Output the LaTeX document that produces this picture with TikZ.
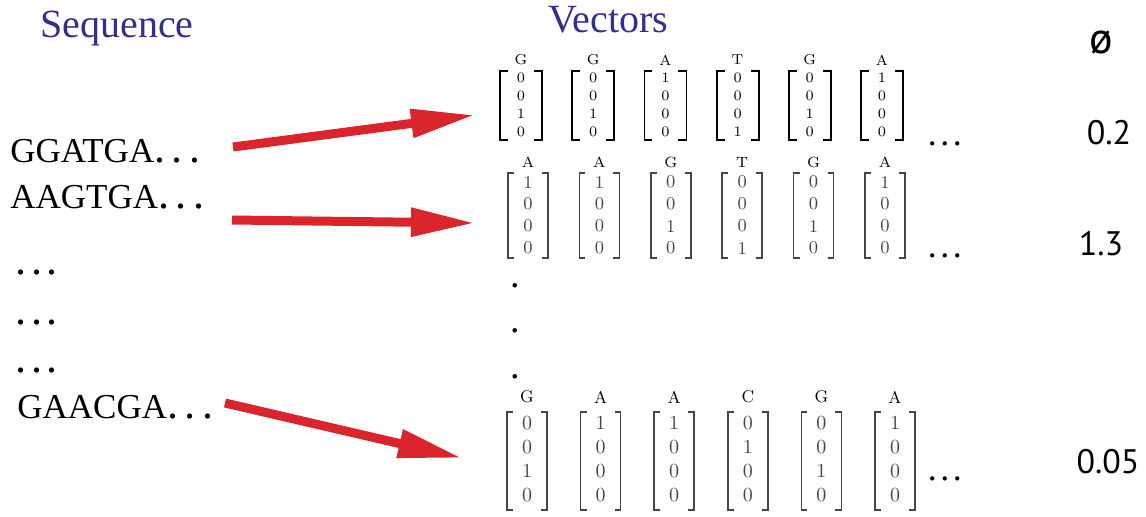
\documentclass[tikz,border=0pt]{standalone}
\usepackage{fontspec}
\usetikzlibrary{arrows.meta}
\newfontfamily\timesf{Liberation Serif}
\newfontfamily\sansf{PT Sans}
\definecolor{titleblue}{RGB}{46,49,146}
\definecolor{arrowred}{RGB}{217,37,43}
\definecolor{vecgray}{RGB}{70,70,70}
% three enlarged periods with a chosen gap between them
\newcommand\spreaddots[2]{{\fontsize{#1}{#1}\selectfont.\kern#2.\kern#2.}}

\tikzset{
  title/.style={inner sep=0pt, anchor=base west, text=titleblue,
                font=\timesf\fontsize{20}{24}\selectfont},
  seqtext/.style={inner sep=0pt, anchor=base west,
                  font=\timesf\fontsize{17.5}{20}\selectfont},
  score/.style={inner sep=0pt, font=\sansf\fontsize{17}{20}\selectfont},
  encode/.style={-{Triangle[length=32pt,width=13.5pt]}, line width=4.5pt,
                 draw=arrowred, fill=arrowred},
  % first row of one-hot vectors (small, dark)
  hdA/.style={inner sep=0pt, font=\fontsize{7.2}{8}\selectfont},
  bitA/.style={inner sep=0pt, font=\fontsize{7.2}{8}\selectfont},
  brkA/.style={line width=0.9pt, black},
  % second row
  hdB/.style={inner sep=0pt, font=\fontsize{7.4}{8}\selectfont},
  bitB/.style={inner sep=0pt, text=vecgray, font=\fontsize{9}{10}\selectfont},
  brkB/.style={line width=0.8pt, vecgray},
  % last row
  hdC/.style={inner sep=0pt, font=\fontsize{8.5}{10}\selectfont},
  bitC/.style={inner sep=0pt, text=vecgray, font=\fontsize{10}{12}\selectfont},
  brkC/.style={line width=0.8pt, vecgray},
  rowdots/.style={inner sep=0pt, anchor=base west, font=\timesf},
  vdot/.style={inner sep=0pt, anchor=base, font=\timesf\fontsize{19}{19}\selectfont},
}

\begin{document}
\begin{tikzpicture}[x=0.5pt,y=-0.5pt]
\useasboundingbox (0,0) rectangle (1146,516);

% column titles
\node[title] (seqtitle) at (40,37) {Sequence};
\node[title] (vectitle) at (548,32) {Vectors};
\node[score, font=\sansf\fontsize{22}{24}\selectfont] (phi) at (1101,42) {ø};

% input sequences
\node[seqtext] (s1) at (10,162) {GGATGA\spreaddots{22pt}{3.35pt}};
\node[seqtext] (s2) at (10,208) {AAGTGA\spreaddots{22pt}{3.35pt}};
\node[seqtext] (g1) at (15.5,274) {\spreaddots{22pt}{2.25pt}};
\node[seqtext] (g2) at (15.5,324) {\spreaddots{22pt}{2.25pt}};
\node[seqtext] (g3) at (15.5,372) {\spreaddots{22pt}{2.25pt}};
\node[seqtext] (s3) at (17,418) {GAACGA\spreaddots{22pt}{3.35pt}};

% first encoded sequence
\foreach \L/\a/\b/\c/\d [count=\i from 0] in
    {G/0/0/1/0, G/0/0/1/0, A/1/0/0/0, T/0/0/0/1, G/0/0/1/0, A/1/0/0/0} {
  \pgfmathsetmacro\cx{521+72.2*\i}
  \node[hdA] (vA\i) at (\cx,60) {\L};
  \node[bitA] at (\cx,78) {\a};
  \node[bitA] at (\cx,96) {\b};
  \node[bitA] at (\cx,114) {\c};
  \node[bitA] at (\cx,132) {\d};
  \draw[brkA] (\cx-13,71) -- (\cx-21,71) -- (\cx-21,140) -- (\cx-13,140);
  \draw[brkA] (\cx+13,71) -- (\cx+21,71) -- (\cx+21,140) -- (\cx+13,140);
}
\node[rowdots] (eA) at (927.5,145) {\spreaddots{18pt}{1.75pt}};
\coordinate (inA) at (475,115);

% second encoded sequence
\foreach \L/\a/\b/\c/\d [count=\i from 0] in
    {A/1/0/0/0, A/1/0/0/0, G/0/0/1/0, T/0/0/0/1, G/0/0/1/0, A/1/0/0/0} {
  \pgfmathsetmacro\cx{528+71.4*\i}
  \node[hdB] (vB\i) at (\cx,162) {\L};
  \node[bitB] at (\cx,182) {\a};
  \node[bitB] at (\cx,204) {\b};
  \node[bitB] at (\cx,226) {\c};
  \node[bitB] at (\cx,248) {\d};
  \draw[brkB] (\cx-14,173) -- (\cx-20,173) -- (\cx-20,258) -- (\cx-14,258);
  \draw[brkB] (\cx+14,173) -- (\cx+20,173) -- (\cx+20,258) -- (\cx+14,258);
}
\node[rowdots] (eB) at (927.5,257) {\spreaddots{18pt}{1.75pt}};
\coordinate (inB) at (475,223);

% vertical ellipsis between rows
\node[vdot] (v1) at (515,287) {.};
\node[vdot] (v2) at (515,332) {.};
\node[vdot] (v3) at (515,378) {.};

% last encoded sequence
\foreach \L/\a/\b/\c/\d [count=\i from 0] in
    {G/0/0/1/0, A/1/0/0/0, A/1/0/0/0, C/0/1/0/0, G/0/0/1/0, A/1/0/0/0} {
  \pgfmathsetmacro\cx{527+73.6*\i}
  \node[hdC] (vC\i) at (\cx,397) {\L};
  \node[bitC] at (\cx,423) {\a};
  \node[bitC] at (\cx,447) {\b};
  \node[bitC] at (\cx,471) {\c};
  \node[bitC] at (\cx,495) {\d};
  \draw[brkC] (\cx-14,412) -- (\cx-20,412) -- (\cx-20,510) -- (\cx-14,510);
  \draw[brkC] (\cx+14,412) -- (\cx+20,412) -- (\cx+20,510) -- (\cx+14,510);
}
\node[rowdots] (eC) at (927.5,480) {\spreaddots{18pt}{1.75pt}};
\coordinate (inC) at (462,458);

% scores
\node[score] (p1) at (1109,133) {0.2};
\node[score] (p2) at (1101,244) {1.3};
\node[score] (p3) at (1108,462) {0.05};

% encoding arrows
\coordinate (outA) at (233,147);
\coordinate (outB) at (232,220);
\coordinate (outC) at (225,403);
\draw[encode] (outA) -- (inA);
\draw[encode] (outB) -- (inB);
\draw[encode] (outC) -- (inC);
\end{tikzpicture}
\end{document}
